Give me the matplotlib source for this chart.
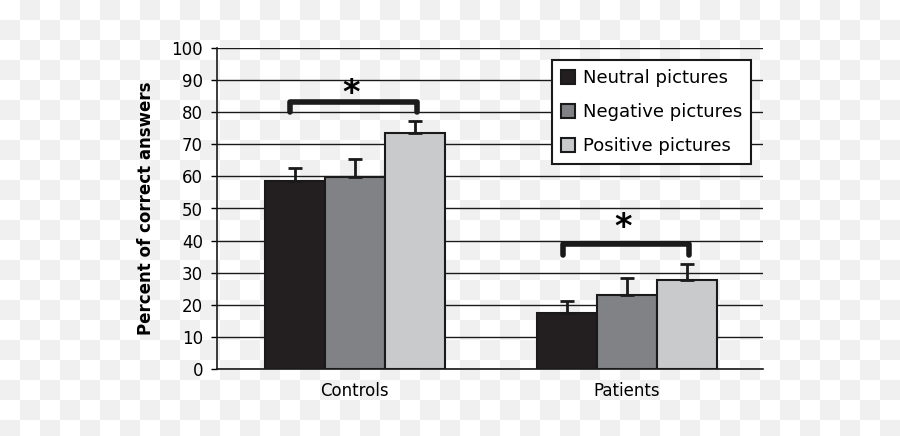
import numpy as np
import matplotlib
matplotlib.use('Agg')
import matplotlib.pyplot as plt

plt.rcParams['font.family'] = ['DejaVu Sans']

## Datos
groups = ['Controls', 'Patients']
series = ['Neutral pictures', 'Negative pictures', 'Positive pictures']
colors = ['#231f20', '#808285', '#c9cacc']
values = {
    'Neutral pictures':  [58.7, 17.5],
    'Negative pictures': [59.9, 23.1],
    'Positive pictures': [73.4, 27.7],
}
errors = {
    'Neutral pictures':  [4.0, 3.8],
    'Negative pictures': [5.5, 5.2],
    'Positive pictures': [4.0, 5.0],
}
# brackets: (group, y top, y leg end, y of asterisk baseline)
brackets = [(0, 83.3, 80.2, 82.8), (1, 38.9, 35.5, 41.2)]
yticks = np.arange(0, 101, 10)

## Figura
W, H = 900, 436
fig = plt.figure(figsize=(W / 100, H / 100), dpi=100)

# checkerboard background
yy, xx = np.indices((H, W))
checker = np.where(((yy // 20) + (xx // 20)) % 2 == 0, 1.0, 0.94)
fig.figimage(checker, cmap='gray', vmin=0, vmax=1, origin='upper', zorder=-10)

ax = fig.add_axes([217 / W, 1 - 369 / H, (763 - 217) / W, (369 - 48) / H])
ax.set_facecolor('none')
ax.set_zorder(1)

width = 0.22
x = np.arange(len(groups))
for i, s in enumerate(series):
    pos = x + (i - 1) * width
    ax.bar(pos, values[s], width, color=colors[i], edgecolor='#1a1a1a',
           linewidth=1.5, label=s, zorder=3)
    ax.errorbar(pos, values[s], yerr=[np.zeros(len(groups)), errors[s]],
                fmt='none', ecolor='#1a1a1a', elinewidth=2, capsize=5,
                capthick=2, zorder=4)

for g, ytop, yleg, yast in brackets:
    x0, x1 = g - 0.237, g + 0.228
    ax.plot([x0, x0, x1, x1], [yleg, ytop, ytop, yleg], color='#1a1a1a',
            lw=4, solid_joinstyle='round', solid_capstyle='round', zorder=5)
    ax.text(g - 0.015, yast, '*', fontsize=24, fontweight='bold',
            ha='center', va='baseline', zorder=5)

ax.set_xlim(-0.507, 1.5)
ax.set_ylim(0, 100)
ax.set_yticks(yticks)
ax.yaxis.grid(True, color='#1a1a1a', linewidth=1.0)
ax.set_axisbelow(True)
ax.set_xticks(x)
ax.set_xticklabels(groups, fontsize=12)
ax.tick_params(axis='x', length=0, pad=9)
ax.tick_params(axis='y', length=4, width=1, labelsize=12, pad=6)

for side in ['top', 'right']:
    ax.spines[side].set_visible(False)
for side in ['left', 'bottom']:
    ax.spines[side].set_color('#1a1a1a')
    ax.spines[side].set_linewidth(1.2)

ax.set_ylabel('Percent of correct answers', fontsize=12, fontweight='bold',
              labelpad=12)

leg = ax.legend(loc='upper right', bbox_to_anchor=(0.978, 0.963), fontsize=13,
                frameon=True, fancybox=False, handlelength=0.8,
                handleheight=0.8, handletextpad=0.4, labelspacing=0.9,
                borderpad=0.5, borderaxespad=0)
leg.get_frame().set_edgecolor('#1a1a1a')
leg.get_frame().set_linewidth(1.5)
leg.get_frame().set_facecolor('white')
leg.get_frame().set_alpha(1)
leg.set_zorder(6)

plt.savefig('out.png', dpi=100)
